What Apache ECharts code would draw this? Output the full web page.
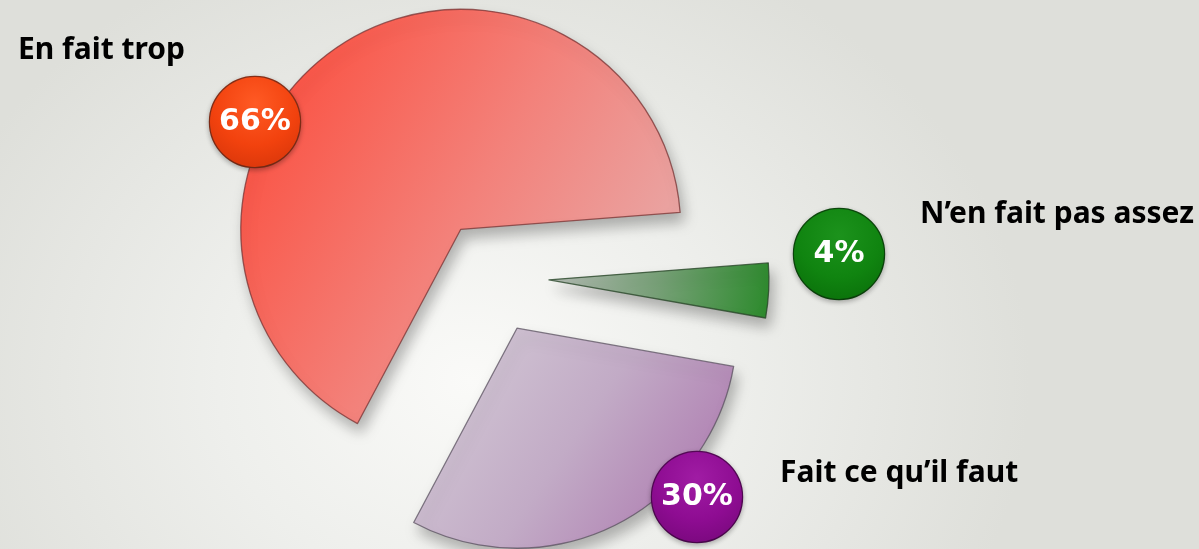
<!DOCTYPE html>
<html>
<head>
<meta charset="utf-8">
<script src="https://cdn.jsdelivr.net/npm/echarts@6/dist/echarts.min.js"></script>
<style>
  html, body { margin: 0; padding: 0; }
  #chart {
    width: 1199px; height: 549px;
    background: radial-gradient(ellipse 560px 470px at 470px 380px, #fafaf8 0%, #eeefec 45%, #dedfda 100%);
  }
</style>
</head>
<body>
<div id="chart"></div>
<script>
// Answers and their shares (%)
const categories = ['En fait trop', 'N\u2019en fait pas assez', 'Fait ce qu\u2019il faut'];
const values = [66, 4, 30];

// Slice fills: [start, middle, end] of each gradient
const sliceColors = [
  ['#fb4e3e', '#f3817a', '#e6b0b0'],
  ['#b4bab4', '#76a076', '#2c8a2c'],
  ['#d6cfd8', '#c2abc6', '#a86eaa']
];
const sliceBorders = ['rgba(120,50,50,0.75)', 'rgba(40,70,40,0.8)', 'rgba(90,80,95,0.75)'];
// Bubble fills: [highlight, base, rim]
const bubbleColors = [
  ['#ff5a24', '#f2420e', '#d8360a'],
  ['#1c921c', '#108410', '#0a700a'],
  ['#a01ca4', '#8e0c92', '#78087c']
];
const bubbleBorders = ['#8a3018', '#0c4a0c', '#560858'];

// Label anchors (px): percentage bubbles and answer captions
const bubblePos = [[255, 122], [839, 254], [697, 497]];
const captionPos = [[18, 50], [920, 214], [780, 473]];

const chart = echarts.init(document.getElementById('chart'), null, { renderer: 'canvas' });

const center = [492, 277];
const radius = 220;
const startAngle = 242;

function sliceFill(i) {
  const c = sliceColors[i];
  const dir = i === 2 ? [0, 0, 1, 1] : [0, 0.2, 1, 0.8];
  return new echarts.graphic.LinearGradient(dir[0], dir[1], dir[2], dir[3], [
    { offset: 0, color: c[0] },
    { offset: 0.5, color: c[1] },
    { offset: 1, color: c[2] }
  ]);
}

function bubbleFill(i) {
  const c = bubbleColors[i];
  return new echarts.graphic.RadialGradient(0.5, 0.3, 0.75, [
    { offset: 0, color: c[0] },
    { offset: 0.6, color: c[1] },
    { offset: 1, color: c[2] }
  ]);
}

const sliceData = categories.map((name, i) => {
  const style = {
    color: sliceFill(i),
    borderColor: sliceBorders[i],
    borderWidth: 1.3,
    shadowBlur: 14,
    shadowColor: 'rgba(0,0,0,0.28)',
    shadowOffsetX: 4,
    shadowOffsetY: 9
  };
  return { name: name, value: values[i], selected: true, itemStyle: style, select: { itemStyle: style } };
});

const bubbleData = categories.map((name, i) => ({
  name: name,
  value: values[i],
  label: { backgroundColor: bubbleFill(i), borderColor: bubbleBorders[i], borderWidth: 1.2 }
}));

const captionData = categories.map((name, i) => ({ name: name, value: values[i] }));

// Invisible overlay pie that only carries labels
function labelLayer(data, label, pos, align, z) {
  return {
    type: 'pie',
    center: center,
    radius: [0, radius],
    startAngle: startAngle,
    clockwise: true,
    silent: true,
    selectedMode: false,
    z: z,
    avoidLabelOverlap: false,
    minShowLabelAngle: 0,
    emphasis: { disabled: true },
    itemStyle: { color: 'rgba(0,0,0,0)' },
    data: data,
    labelLine: { show: false },
    label: Object.assign({ show: true, position: 'outside' }, label),
    labelLayout: function (params) {
      const p = pos[params.dataIndex];
      return { x: p[0], y: p[1], align: align, verticalAlign: 'middle' };
    }
  };
}

const option = {
  animation: false,
  series: [
    {
      type: 'pie',
      center: center,
      radius: [0, radius],
      startAngle: startAngle,
      clockwise: true,
      selectedMode: 'multiple',
      selectedOffset: 57,
      emphasis: { disabled: true },
      data: sliceData,
      label: { show: false },
      labelLine: { show: false }
    },
    labelLayer(bubbleData, {
      formatter: '{c}%',
      color: '#ffffff',
      fontFamily: 'DejaVu Sans',
      fontWeight: 'bold',
      fontSize: 30,
      width: 90,
      height: 90,
      lineHeight: 90,
      padding: 0,
      align: 'center',
      verticalAlign: 'middle',
      borderRadius: 45,
      shadowBlur: 5,
      shadowColor: 'rgba(0,0,0,0.25)',
      shadowOffsetY: 2
    }, bubblePos, 'center', 4),
    labelLayer(captionData, {
      formatter: '{b}',
      color: '#000000',
      fontFamily: 'Noto Sans',
      fontWeight: 'bold',
      fontSize: 30
    }, captionPos, 'left', 3)
  ]
};

chart.setOption(option);
</script>
</body>
</html>
